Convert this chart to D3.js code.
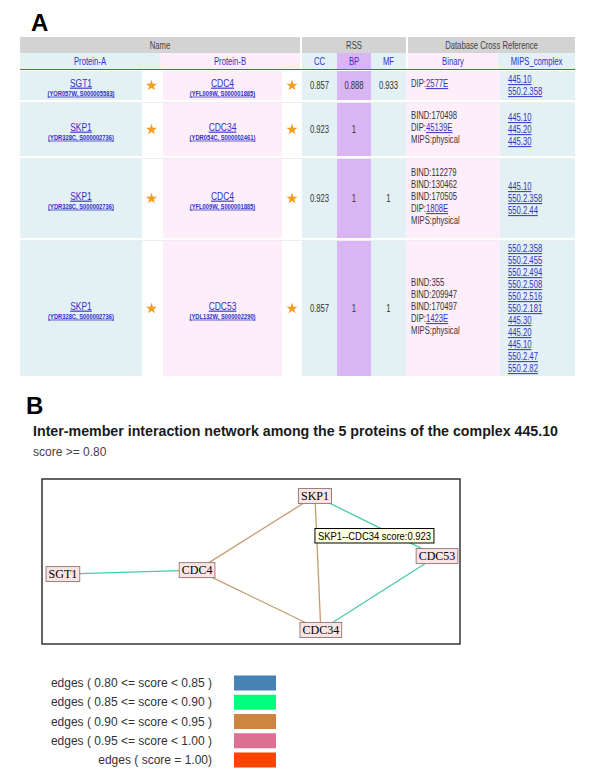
<!DOCTYPE html>
<html><head><meta charset="utf-8">
<script src="https://cdn.jsdelivr.net/npm/d3@7/dist/d3.min.js"></script>
<style>html,body{margin:0;padding:0;background:#fff;}svg{display:block;}</style>
</head><body>
<script>
// ---------------- DATA ----------------
const headerGroups = ["Name", "RSS", "Database Cross Reference"];
const columnHeaders = ["Protein-A", "Protein-B", "CC", "BP", "MF", "Binary", "MIPS_complex"];
const proteinA = ["SGT1", "SKP1", "SKP1", "SKP1"];
const proteinAIds = ["(YOR057W, S000005583)", "(YDR328C, S000002736)", "(YDR328C, S000002736)", "(YDR328C, S000002736)"];
const proteinB = ["CDC4", "CDC34", "CDC4", "CDC53"];
const proteinBIds = ["(YFL009W, S000001885)", "(YDR054C, S000002461)", "(YFL009W, S000001885)", "(YDL132W, S000002290)"];
const ccScores = [0.857, 0.923, 0.923, 0.857];
const bpScores = [0.888, 1, 1, 1];
const mfScores = [0.933, null, 1, 1];
const binaryRefs = [
  ["DIP:2577E"],
  ["BIND:170498", "DIP:45139E", "MIPS:physical"],
  ["BIND:112279", "BIND:130462", "BIND:170505", "DIP:1808E", "MIPS:physical"],
  ["BIND:355", "BIND:209947", "BIND:170497", "DIP:1423E", "MIPS:physical"]
];
const mipsComplexes = [
  ["445.10", "550.2.358"],
  ["445.10", "445.20", "445.30"],
  ["445.10", "550.2.358", "550.2.44"],
  ["550.2.358", "550.2.455", "550.2.494", "550.2.508", "550.2.516", "550.2.181", "445.30", "445.20", "445.10", "550.2.47", "550.2.82"]
];

const networkTitle = "Inter-member interaction network among the 5 proteins of the complex 445.10";
const scoreCutoff = "score >= 0.80";
const networkNodes = ["SKP1", "SGT1", "CDC4", "CDC53", "CDC34"];
const edgeSource = ["SGT1", "SKP1", "SKP1", "SKP1", "CDC4", "CDC53"];
const edgeTarget = ["CDC4", "CDC4", "CDC34", "CDC53", "CDC34", "CDC34"];
const edgeScore  = [0.857, 0.923, 0.923, 0.857, 0.92, 0.87];
const hoveredEdge = 2; // SKP1--CDC34

const scoreThresholds = [0.85, 0.90, 0.95, 1.00];
const legendLabels = [
  "edges ( 0.80 <= score < 0.85 )",
  "edges ( 0.85 <= score < 0.90 )",
  "edges ( 0.90 <= score < 0.95 )",
  "edges ( 0.95 <= score < 1.00 )",
  "edges ( score = 1.00)"
];
const legendColors = ["#4682b4", "#00ff7f", "#cd853f", "#db7093", "#ff4500"];
const edgeColors   = ["#5a8fc0", "#48c9a9", "#c69a6e", "#d890a8", "#ff6a30"];

// ---------------- DRAWING ----------------
const W = 600, H = 782;
const svg = d3.select("body").append("svg").attr("width", W).attr("height", H);
const SANS = "'Liberation Sans', Arial, sans-serif";
const SERIF = "'Liberation Serif', 'Times New Roman', serif";
const BLUE_BG = "#e3f1f4", PINK_BG = "#fdeefa", PURPLE_BG = "#d9b6f3", GRAY_BG = "#d3d3d3";
const LINK = "#3030c8", DARK = "#333";
const SX = 0.77;

function stext(parent, x, y, str, o = {}) {
  const t = parent.append("text")
    .attr("transform", `translate(${x},${y}) scale(${o.sx ?? SX},1)`)
    .attr("text-anchor", o.anchor || "middle")
    .attr("font-family", o.family || SANS)
    .attr("font-size", o.size || 10)
    .attr("font-weight", o.weight || "normal")
    .attr("fill", o.fill || DARK);
  if (o.underline) t.style("text-decoration", "underline");
  if (str !== null) t.text(str);
  return t;
}

// Panel letters
svg.append("text").attr("x", 31).attr("y", 31).attr("font-family", SANS).attr("font-weight", "bold")
  .attr("font-size", 24).attr("fill", "#000").text("A");
svg.append("text").attr("x", 26).attr("y", 414).attr("font-family", SANS).attr("font-weight", "bold")
  .attr("font-size", 24).attr("fill", "#000").text("B");

// ----- Table layout -----
const tbl = svg.append("g");
const cols = [
  {k: "a",   x0: 20,  x1: 142, fill: BLUE_BG},
  {k: "sa",  x0: 142, x1: 163, fill: "#fff"},
  {k: "b",   x0: 163, x1: 282, fill: PINK_BG},
  {k: "sb",  x0: 282, x1: 302, fill: "#fff"},
  {k: "cc",  x0: 302, x1: 337, fill: BLUE_BG},
  {k: "bp",  x0: 337, x1: 371, fill: PURPLE_BG},
  {k: "mf",  x0: 371, x1: 406, fill: BLUE_BG},
  {k: "bin", x0: 406, x1: 500, fill: PINK_BG},
  {k: "mip", x0: 500, x1: 575, fill: BLUE_BG}
];
const col = Object.fromEntries(cols.map(c => [c.k, c]));
const cx = k => (col[k].x0 + col[k].x1) / 2;

// header row 1
const groupSpans = [[20, 300], [302, 406], [408, 575]];
headerGroups.forEach((g, i) => {
  tbl.append("rect").attr("x", groupSpans[i][0]).attr("y", 37).attr("width", groupSpans[i][1] - groupSpans[i][0])
    .attr("height", 16).attr("fill", GRAY_BG);
  stext(tbl, (groupSpans[i][0] + groupSpans[i][1]) / 2, 48.5, g, {fill: "#444"});
});
// header row 2
const hdrSpans = [[20, 160, BLUE_BG], [160, 300, PINK_BG], [302, 337, BLUE_BG], [337, 371, PURPLE_BG],
                  [371, 406, BLUE_BG], [408, 498, PINK_BG], [498, 575, BLUE_BG]];
columnHeaders.forEach((h, i) => {
  const s = hdrSpans[i];
  tbl.append("rect").attr("x", s[0]).attr("y", 53).attr("width", s[1] - s[0]).attr("height", 16).attr("fill", s[2]);
  stext(tbl, (s[0] + s[1]) / 2, 64.5, h, {fill: LINK});
});
tbl.append("line").attr("x1", 20).attr("x2", 575).attr("y1", 69.5).attr("y2", 69.5)
  .attr("stroke", "#a0522d").attr("stroke-width", 1.2);

// rows
const rowIdx = d3.range(proteinA.length);
const rowTop = d3.scaleOrdinal().domain(rowIdx).range([70, 102, 158, 240]);
const rowBot = d3.scaleOrdinal().domain(rowIdx).range([101, 157, 239, 377]);
const fmt = v => v === null ? "" : (v === 1 ? "1" : d3.format(".3f")(v));
const star = d3.symbol().type(d3.symbolStar).size(40);
const LH = 12;

rowIdx.forEach(i => {
  const y0 = rowTop(i), y1 = rowBot(i), cyy = (y0 + y1) / 2;
  const g = tbl.append("g");
  cols.forEach(c => {
    g.append("rect").attr("x", c.x0).attr("y", y0 + 1).attr("width", c.x1 - c.x0).attr("height", y1 - y0 - 2)
      .attr("fill", c.fill);
  });
  if (i > 0) g.append("line").attr("x1", 20).attr("x2", 575).attr("y1", y0 + 0.5).attr("y2", y0 + 0.5)
    .attr("stroke", "#ededed");
  // proteins
  stext(g, cx("a"), cyy + 1, proteinA[i], {fill: LINK, underline: true, size: 11});
  stext(g, cx("a"), cyy + 10, proteinAIds[i], {fill: LINK, underline: true, size: 7.5, weight: "bold"});
  stext(g, cx("b"), cyy + 1, proteinB[i], {fill: LINK, underline: true, size: 11});
  stext(g, cx("b"), cyy + 10, proteinBIds[i], {fill: LINK, underline: true, size: 7.5, weight: "bold"});
  // stars
  [cx("sa") - 1, cx("sb")].forEach(sx => {
    g.append("path").attr("d", star).attr("transform", `translate(${sx},${cyy})`).attr("fill", "#f39c1e");
  });
  // scores
  stext(g, cx("cc"), cyy + 3.5, fmt(ccScores[i]));
  stext(g, cx("bp"), cyy + 3.5, fmt(bpScores[i]));
  stext(g, cx("mf"), cyy + 3.5, fmt(mfScores[i]));
  // binary
  const b = binaryRefs[i];
  const bStart = cyy - 2 - (b.length - 1) * LH / 2 + 3.5;
  b.forEach((s, j) => {
    const t = stext(g, col.bin.x0 + 5, bStart + j * LH, null, {anchor: "start"});
    if (s.startsWith("DIP:")) {
      t.append("tspan").text("DIP:");
      t.append("tspan").attr("fill", LINK).style("text-decoration", "underline").text(s.slice(4));
    } else t.text(s);
  });
  // MIPS complexes
  const m = mipsComplexes[i];
  const mStart = cyy - (m.length - 1) * LH / 2 + 3.5;
  m.forEach((s, j) => {
    stext(g, col.mip.x0 + 8, mStart + j * LH, s, {anchor: "start", fill: LINK, underline: true});
  });
});

// ----- Panel B -----
svg.append("text").attr("x", 33).attr("y", 436).attr("font-family", SANS).attr("font-weight", "bold")
  .attr("font-size", 15).attr("fill", "#1a1a1a").attr("textLength", 525).attr("lengthAdjust", "spacingAndGlyphs")
  .text(networkTitle);
svg.append("text").attr("x", 33).attr("y", 456).attr("font-family", SANS).attr("font-size", 12)
  .attr("fill", "#444").text(scoreCutoff);

const box = {x0: 42, x1: 460, y0: 479, y1: 644};
svg.append("rect").attr("x", box.x0).attr("y", box.y0).attr("width", box.x1 - box.x0).attr("height", box.y1 - box.y0)
  .attr("fill", "#fff").attr("stroke", "#333").attr("stroke-width", 1.5);

const nx = d3.scaleLinear().domain([0, 100]).range([box.x0, box.x1]);
const ny = d3.scaleLinear().domain([0, 100]).range([box.y0, box.y1]);
// layout of graph nodes (normalised 0-100 units within the network frame)
const nodeLayout = {SKP1: [65.3, 10.3], SGT1: [5.0, 57.6], CDC4: [37.1, 55.2], CDC53: [94.5, 46.7], CDC34: [66.7, 91.5]};
const edgeColor = d3.scaleThreshold().domain(scoreThresholds).range(edgeColors);
const legendColor = d3.scaleOrdinal().domain(legendLabels).range(legendColors);

const net = svg.append("g");
edgeSource.forEach((s, i) => {
  const a = nodeLayout[s], b = nodeLayout[edgeTarget[i]];
  net.append("line").attr("x1", nx(a[0])).attr("y1", ny(a[1])).attr("x2", nx(b[0])).attr("y2", ny(b[1]))
    .attr("stroke", edgeColor(edgeScore[i])).attr("stroke-width", 1.3);
});
networkNodes.forEach(n => {
  const p = nodeLayout[n];
  const g = net.append("g").attr("transform", `translate(${nx(p[0])},${ny(p[1])})`);
  const t = g.append("text").attr("text-anchor", "middle").attr("y", 4).attr("font-family", SERIF)
    .attr("font-size", 12).attr("fill", "#000").text(n);
  const w = t.node().getComputedTextLength() + 5;
  g.insert("rect", "text").attr("x", -w / 2).attr("y", -7.5).attr("width", w).attr("height", 15)
    .attr("fill", "#fbe4e4").attr("stroke", "#9a8080").attr("stroke-width", 1);
});
// hover tooltip for edge SKP1--CDC34
{
  const s = edgeSource[hoveredEdge], tname = edgeTarget[hoveredEdge];
  const a = nodeLayout[s];
  const tx = nx(a[0]), ty = ny(30);
  const g = net.append("g").attr("transform", `translate(${tx},${ty})`);
  g.append("rect").attr("x", 0).attr("y", 0).attr("width", 119).attr("height", 14.5)
    .attr("fill", "#ffffe1").attr("stroke", "#000").attr("stroke-width", 1);
  g.append("text").attr("x", 3).attr("y", 11).attr("font-family", SANS).attr("font-size", 11)
    .attr("fill", "#000").attr("textLength", 113).attr("lengthAdjust", "spacingAndGlyphs")
    .text(`${s}--${tname} score:${d3.format(".3f")(edgeScore[hoveredEdge])}`);
}

// legend
const leg = svg.append("g");
const ly = d3.scalePoint().domain(legendLabels).range([683, 760]);
legendLabels.forEach(l => {
  leg.append("text").attr("x", 212).attr("y", ly(l) + 4).attr("text-anchor", "end").attr("font-family", SANS)
    .attr("font-size", 12).attr("fill", "#333").text(l);
  leg.append("rect").attr("x", 234).attr("y", ly(l) - 7.5).attr("width", 42).attr("height", 15)
    .attr("fill", legendColor(l));
});
</script>
</body></html>
